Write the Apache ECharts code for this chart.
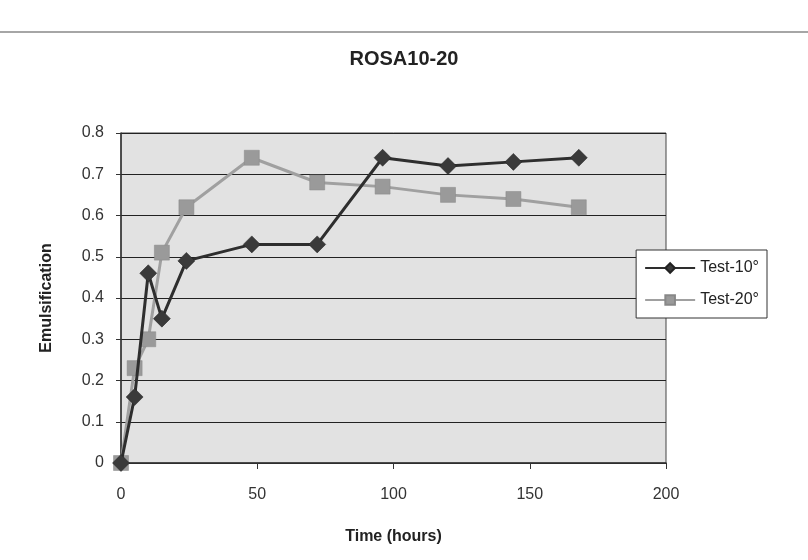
<!DOCTYPE html>
<html>
<head>
<meta charset="utf-8">
<script src="https://cdn.jsdelivr.net/npm/echarts@6/dist/echarts.min.js"></script>
<style>
  html, body { margin: 0; padding: 0; background: #fff; }
  #chart { width: 808px; height: 560px; }
</style>
</head>
<body>
<div id="chart"></div>
<script>
  // hours and emulsification index
  const hours = [0, 5, 10, 15, 24, 48, 72, 96, 120, 144, 168]
  const test10 = [0, 0.16, 0.46, 0.35, 0.49, 0.53, 0.53, 0.74, 0.72, 0.73, 0.74]
  const test20 = [0, 0.23, 0.30, 0.51, 0.62, 0.74, 0.68, 0.67, 0.65, 0.64, 0.62]
  const seriesNames = ['Test-10°', 'Test-20°']

  const pairs = (ys) => hours.map((h, i) => [h, ys[i]])
  const font = 'Liberation Sans, Arial, sans-serif'

  const chart = echarts.init(document.getElementById('chart'))
  chart.setOption({
    backgroundColor: '#fff',
    animation: false,
    title: {
      text: 'ROSA10-20',
      left: 'center',
      top: 44,
      textStyle: { fontFamily: font, fontSize: 20, fontWeight: 'bold', color: '#222' }
    },
    graphic: [{
      type: 'line',
      shape: { x1: 0, y1: 32, x2: 808, y2: 32 },
      style: { stroke: '#888', lineWidth: 1.5 }
    }],
    legend: {
      orient: 'vertical',
      right: 41,
      top: 250,
      padding: [10, 8, 10, 8],
      itemGap: 16,
      itemWidth: 50,
      itemHeight: 12,
      backgroundColor: '#fff',
      borderColor: '#333',
      borderWidth: 1,
      borderRadius: 0,
      textStyle: { fontFamily: font, fontSize: 16, color: '#222' },
      data: seriesNames
    },
    grid: {
      left: 121, right: 142, top: 133, bottom: 97,
      show: true, backgroundColor: '#e2e2e2', borderWidth: 1, borderColor: '#444'
    },
    xAxis: {
      type: 'value',
      min: 0,
      max: 200,
      interval: 50,
      name: 'Time (hours)',
      nameLocation: 'middle',
      nameGap: 66,
      nameTextStyle: { fontFamily: font, fontSize: 16, fontWeight: 'bold', color: '#222' },
      axisLine: { lineStyle: { color: '#333', width: 1.5 } },
      axisTick: { show: true, length: 6, lineStyle: { color: '#333' } },
      axisLabel: { fontFamily: font, fontSize: 16, color: '#333', margin: 24 },
      splitLine: { show: false }
    },
    yAxis: {
      type: 'value',
      min: 0,
      max: 0.8,
      interval: 0.1,
      name: 'Emulsification',
      nameLocation: 'middle',
      nameGap: 66,
      nameRotate: 90,
      nameTextStyle: { fontFamily: font, fontSize: 16, fontWeight: 'bold', color: '#222' },
      axisLine: { show: true, lineStyle: { color: '#333', width: 1.5 } },
      axisTick: { show: true, length: 5, lineStyle: { color: '#333' } },
      axisLabel: { fontFamily: font, fontSize: 16, color: '#333', margin: 17 },
      splitLine: { show: true, lineStyle: { color: '#222', width: 1.2 } }
    },
    series: [
      {
        name: seriesNames[0],
        type: 'line',
        data: pairs(test10),
        symbol: 'diamond',
        symbolSize: 17,
        itemStyle: { color: '#3a3a3a', borderColor: '#222', borderWidth: 0.5 },
        lineStyle: { color: '#2e2e2e', width: 3 },
        z: 3
      },
      {
        name: seriesNames[1],
        type: 'line',
        data: pairs(test20),
        symbol: 'rect',
        symbolSize: 15,
        itemStyle: { color: '#9a9a9a', borderColor: '#888', borderWidth: 0.5 },
        lineStyle: { color: '#a0a0a0', width: 3 },
        z: 2
      }
    ]
  })
</script>
</body>
</html>
